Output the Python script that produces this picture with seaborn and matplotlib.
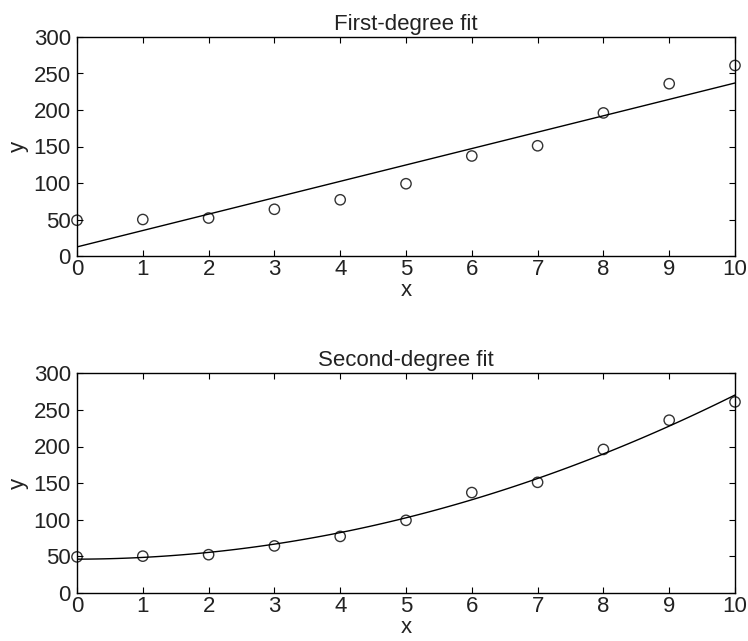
import matplotlib
matplotlib.use("Agg")
import matplotlib.pyplot as plt
import seaborn as sns
import pandas as pd

x_values = [0, 1, 2, 3, 4, 5, 6, 7, 8, 9, 10]
y_values = [49, 50, 52, 64, 77, 99, 137, 151, 196, 236, 261]
titles = ["First-degree fit", "Second-degree fit"]
orders = [1, 2]
x_ticks = list(range(0, 11))
y_ticks = [0, 50, 100, 150, 200, 250, 300]

sns.set_theme(style="white")
plt.rcParams['font.family'] = ['Liberation Sans', 'DejaVu Sans']

df = pd.DataFrame({"x": x_values, "y": y_values})

fig = plt.figure(figsize=(7.48, 6.41), dpi=100)
positions = [
    [77 / 748, (641 - 256) / 641, (735 - 77) / 748, 219 / 641],
    [77 / 748, (641 - 592.7) / 641, (735 - 77) / 748, 219.3 / 641],
]

for pos, title, order in zip(positions, titles, orders):
    ax = fig.add_axes(pos)
    sns.regplot(data=df, x="x", y="y", order=order, ci=None, ax=ax,
                marker="o",
                scatter_kws=dict(facecolors="none", edgecolors="black",
                                 s=55, linewidths=1.0, clip_on=False, zorder=3),
                line_kws=dict(color="black", lw=1.0))
    ax.set_xlim(0, 10)
    ax.set_ylim(0, 300)
    ax.set_xticks(x_ticks)
    ax.set_yticks(y_ticks)
    ax.tick_params(direction="in", length=4.5, width=0.8, top=True, right=True,
                   left=True, bottom=True, labelsize=16, colors="black",
                   labelcolor="#222222")
    ax.tick_params(axis="x", pad=2.5)
    ax.tick_params(axis="y", pad=4.5)
    for s in ax.spines.values():
        s.set_color("black")
        s.set_linewidth(1.0)
    ax.set_title(title, fontsize=16, pad=5, color="#222222")
    ax.set_xlabel("x", fontsize=16, labelpad=0, color="#222222")
    ax.set_ylabel("y", fontsize=16, labelpad=3, color="#222222")

fig.savefig("out.png", dpi=100)
